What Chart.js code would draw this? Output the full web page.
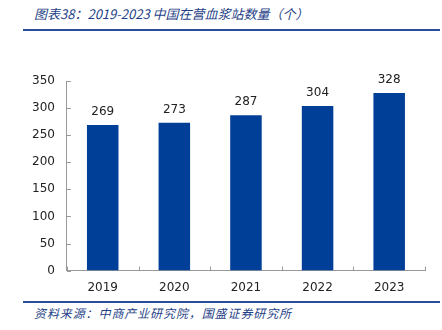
<!DOCTYPE html>
<html><head><meta charset="utf-8">
<script src="https://cdn.jsdelivr.net/npm/chart.js@4/dist/chart.umd.min.js"></script>
<style>
html,body{margin:0;padding:0;background:#fff;}
#wrap{position:relative;width:442px;height:330px;overflow:hidden;}
#title{position:absolute;left:34px;top:4px;font:italic 13px "Noto Sans CJK SC","DejaVu Sans",sans-serif;color:#1f3f88;white-space:nowrap;}
#src{position:absolute;left:34px;top:304px;font:italic 12px "Noto Sans CJK SC","DejaVu Sans",sans-serif;letter-spacing:0.9px;color:#1f3f88;white-space:nowrap;}
.line{position:absolute;left:23px;width:417px;height:2px;background:#2a4f9a;}
#cv{position:absolute;left:0;top:0;}
</style></head>
<body><div id="wrap">
<div id="title">图表38：2019-2023 中国在营血浆站数量（个）</div>
<div class="line" style="top:29px"></div>
<div class="line" style="top:301px"></div>
<div id="src">资料来源：中商产业研究院，国盛证券研究所</div>
<canvas id="cv" width="442" height="330"></canvas>
</div>
<script>
const categories = ["2019","2020","2021","2022","2023"];
const stationCounts = [269, 273, 287, 304, 328];
const yTicks = [0,50,100,150,200,250,300,350];

const labelPlugin = {
  id:'valLabels',
  afterDatasetsDraw(chart){
    const ctx = chart.ctx;
    const meta = chart.getDatasetMeta(0);
    ctx.save();
    ctx.font = '12px "DejaVu Sans", sans-serif';
    ctx.fillStyle = '#222';
    ctx.textAlign = 'center';
    ctx.textBaseline = 'bottom';
    meta.data.forEach((bar,i)=>{
      ctx.fillText(String(stationCounts[i]), bar.x, bar.y - 7);
    });
    ctx.restore();
  }
};

const innerTicks = {
  id:'innerTicks',
  afterDraw(chart){
    const ctx = chart.ctx, xs = chart.scales.x, ys = chart.scales.y, a = chart.chartArea;
    ctx.save();
    ctx.strokeStyle = '#999'; ctx.lineWidth = 1;
    ctx.beginPath();
    yTicks.forEach(v=>{
      const y = Math.round(ys.getPixelForValue(v)) + 0.5;
      ctx.moveTo(a.left, y); ctx.lineTo(a.left + 4, y);
    });
    const n = categories.length;
    for(let i=0;i<=n;i++){
      const x = Math.round(a.left + (a.right - a.left) * i / n) + 0.5;
      ctx.moveTo(x, a.bottom); ctx.lineTo(x, a.bottom - 4);
    }
    ctx.stroke();
    ctx.restore();
  }
};

new Chart(document.getElementById('cv'), {
  type:'bar',
  data:{labels:categories, datasets:[{data:stationCounts, backgroundColor:'#003f98', borderWidth:0, barPercentage:0.44, categoryPercentage:1}]},
  options:{
    responsive:false, animation:false,
    layout:{padding:{left:20,right:17,top:81,bottom:25}},
    plugins:{legend:{display:false}, tooltip:{enabled:false}},
    scales:{
      x:{
        offset:true,
        grid:{display:false, drawTicks:false},
        border:{display:true, color:'#999'},
        ticks:{color:'#222', font:{family:'"DejaVu Sans", sans-serif', size:12}, padding:10}
      },
      y:{
        min:0, max:350,
        afterBuildTicks(axis){ axis.ticks = yTicks.map(v=>({value:v})); },
        grid:{display:false, drawTicks:false},
        border:{display:true, color:'#999'},
        ticks:{color:'#222', font:{family:'"DejaVu Sans", sans-serif', size:12}, padding:12}
      }
    }
  },
  plugins:[labelPlugin, innerTicks]
});
</script>
</body></html>
